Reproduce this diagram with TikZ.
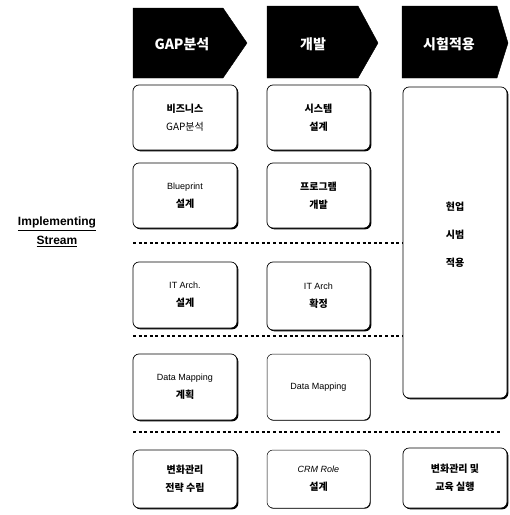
\documentclass[tikz,border=0pt]{standalone}
\usepackage{fontspec}
\setmainfont{Noto Sans CJK KR}
\newfontfamily\latinfont{Liberation Sans}
\usetikzlibrary{shadows}
\tikzset{
  headshape/.style={fill=black, draw=black},
  headtext/.style={text=white, font=\fontsize{14}{16}\selectfont\bfseries, inner sep=0pt},
  stagebox/.style={draw=black, line width=0.7pt, rounded corners=6pt, fill=white,
    drop shadow={shadow xshift=1.3pt, shadow yshift=-1.3pt, fill=black, opacity=1},
    align=center, inner sep=0pt, font=\fontsize{10}{18}\selectfont},
  lightbox/.style={draw=black, line width=0.5pt, rounded corners=6pt, fill=white,
    drop shadow={shadow xshift=0.7pt, shadow yshift=-0.7pt, fill=black, opacity=1},
    align=center, inner sep=0pt, font=\fontsize{10}{18}\selectfont},
  boxtext/.style={align=center, inner sep=0pt, font=\fontsize{10}{28}\selectfont},
  dotline/.style={line width=2.2pt, dash pattern=on 3pt off 2.6pt},
}
\newcommand{\lt}[1]{{\latinfont\fontsize{9}{18}\selectfont #1}}
\begin{document}
\begin{tikzpicture}[x=1pt,y=-1pt]
\fill[white] (0,0) rectangle (510,515);
\useasboundingbox (0,0) rectangle (510,515);
% header arrows
\fill[headshape] (133,8) -- (223,8) -- (247,43) -- (223,78) -- (133,78) -- cycle;
\fill[headshape] (267,6) -- (358,6) -- (378,43) -- (358,78) -- (267,78) -- cycle;
\fill[headshape] (402,6) -- (497,6) -- (508,43) -- (497,78) -- (402,78) -- cycle;
\node[headtext] (h1) at (182,44) {GAP분석};
\node[headtext] (h2) at (313,44) {개발};
\node[headtext] (h3) at (449,44) {시험적용};
% left label
\node[align=center, inner sep=0pt, font=\latinfont\bfseries\fontsize{12}{19}\selectfont] (impl) at (57,232)
  {\underline{Implementing}\\\underline{Stream}};
% column 1
\node[stagebox, minimum width=104pt, minimum height=65pt] (b11) at (185,117.5) {\textbf{비즈니스}\\GAP분석};
\node[stagebox, minimum width=104pt, minimum height=65pt] (b21) at (185,195.5) {\lt{Blueprint}\\\textbf{설계}};
\node[stagebox, minimum width=104pt, minimum height=66pt] (b31) at (185,295) {\lt{IT Arch.}\\\textbf{설계}};
\node[stagebox, minimum width=104pt, minimum height=66pt] (b41) at (185,387) {\lt{Data Mapping}\\\textbf{계획}};
\node[stagebox, minimum width=104pt, minimum height=58pt] (b51) at (185,479) {\textbf{변화관리}\\\textbf{전략 수립}};
% column 2
\node[stagebox, minimum width=103pt, minimum height=65pt] (b12) at (318.5,117.5) {\textbf{시스템}\\\textbf{설계}};
\node[stagebox, minimum width=103pt, minimum height=65pt] (b22) at (318.5,195.5) {\textbf{프로그램}\\\textbf{개발}};
\node[stagebox, minimum width=103pt, minimum height=68pt] (b32) at (318.5,296) {\lt{IT Arch}\\\textbf{확정}};
\node[lightbox, minimum width=103pt, minimum height=66pt] (b42) at (318.5,387) {\lt{Data Mapping}};
\node[lightbox, minimum width=103pt, minimum height=58pt] (b52) at (318.5,479) {{\latinfont\itshape\fontsize{9}{18}\selectfont CRM Role}\\\textbf{설계}};
% column 3
\node[stagebox, minimum width=104pt, minimum height=311pt] (b3big) at (455,242.5) {};
\node[boxtext] (b3txt) at (455,235) {\textbf{현업}\\\textbf{시범}\\\textbf{적용}};
\node[stagebox, minimum width=104pt, minimum height=60pt] (b53) at (455,478) {\textbf{변화관리 및}\\\textbf{교육 실행}};
% dotted separators
\coordinate (d1) at (133,243);
\coordinate (d2) at (133,336);
\coordinate (d3) at (133,432);
\coordinate (d3e) at (500,432);
\draw[dotline] (d1) -- (d1 -| b3big.west);
\draw[dotline] (d2) -- (d2 -| b3big.west);
\draw[dotline] (d3) -- (d3e);
\end{tikzpicture}
\end{document}
